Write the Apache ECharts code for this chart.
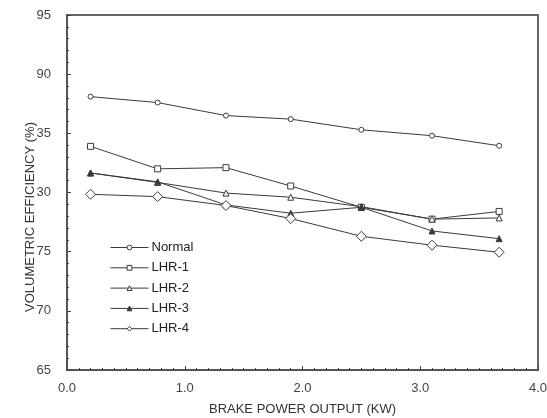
<!DOCTYPE html>
<html><head><meta charset="utf-8">
<script src="https://cdn.jsdelivr.net/npm/echarts@6/dist/echarts.min.js"></script>
<style>html,body{margin:0;padding:0;background:#fff}#c{width:547px;height:418px}</style>
</head><body><div id="c"></div>
<script>
var power = [0.2, 0.77, 1.35, 1.9, 2.5, 3.1, 3.67];
var normal = [88.1, 87.6, 86.5, 86.2, 85.3, 84.8, 83.95];
var lhr1 = [83.9, 82.0, 82.1, 80.55, 78.75, 77.75, 78.4];
var lhr2 = [81.65, 80.85, 79.95, 79.6, 78.8, 77.75, 77.85];
var lhr3 = [81.65, 80.9, 78.95, 78.25, 78.75, 76.75, 76.1];
var lhr4 = [79.85, 79.65, 78.9, 77.8, 76.3, 75.55, 74.95];
var yTickLabels = {95: '95', 90: '90', 85: '35', 80: '30', 75: '75', 70: '70', 65: '65'};
var xTitle = 'BRAKE POWER OUTPUT (KW)';
var yTitle = 'VOLUMETRIC EFFICIENCY (%)';

function pairs(ys) { return ys.map(function (v, i) { return [power[i], v]; }); }
var F = 'Liberation Sans, Arial, sans-serif';
var LC = '#3a3a3a';
function ser(name, ys, symbol, size, fill) {
  return {
    name: name, type: 'line', data: pairs(ys), symbol: symbol, symbolSize: size,
    lineStyle: {color: LC, width: 1}, itemStyle: {color: fill, borderColor: LC, borderWidth: 1},
    emphasis: {disabled: true}, animation: false
  };
}
var chart = echarts.init(document.getElementById('c'));
chart.setOption({
  animation: false,
  grid: {left: 67, top: 15, right: 9, bottom: 48, outerBoundsMode: 'none', containLabel: false,
    show: true, borderColor: '#666', borderWidth: 2, backgroundColor: 'transparent'},
  xAxis: {
    type: 'value', min: 0, max: 4, interval: 1,
    name: xTitle, nameLocation: 'middle', nameGap: 33,
    nameTextStyle: {fontFamily: F, fontSize: 13, color: '#333'},
    axisLine: {lineStyle: {color: '#555', width: 2}},
    axisTick: {inside: true, length: 4, lineStyle: {color: '#444'}},
    minorTick: {show: true, splitNumber: 10, length: 2, lineStyle: {color: '#444'}},
    splitLine: {show: false},
    axisLabel: {fontFamily: F, fontSize: 13, color: '#444', margin: 12, formatter: function (v) { return v.toFixed(1); }}
  },
  yAxis: {
    type: 'value', min: 65, max: 95, interval: 5,
    axisLine: {show: true, lineStyle: {color: '#555', width: 2}},
    axisTick: {show: true, inside: true, length: 4, lineStyle: {color: '#444'}},
    minorTick: {show: true, splitNumber: 5, length: 2, lineStyle: {color: '#444'}},
    splitLine: {show: false},
    axisLabel: {fontFamily: F, fontSize: 13, color: '#444', margin: 16, formatter: function (v) { return yTickLabels[v] || String(v); }}
  },
  legend: {
    orient: 'vertical', left: 110, top: 241, padding: 0, itemWidth: 38, itemHeight: 6, itemGap: 7.3,
    textStyle: {fontFamily: F, fontSize: 13, color: '#222', padding: [0, 0, 0, -2]},
    lineStyle: {width: 1}, itemStyle: {borderWidth: 1},
    inactiveColor: '#999', selectedMode: false,
    data: ['Normal', 'LHR-1', 'LHR-2', 'LHR-3', 'LHR-4']
  },
  graphic: [{
    type: 'text', x: 30, y: 217, rotation: Math.PI / 2,
    style: {text: yTitle, fontFamily: F, fontSize: 13, fill: '#333', align: 'center', verticalAlign: 'middle'}
  }],
  series: [
    ser('Normal', normal, 'circle', 5, '#fff'),
    ser('LHR-1', lhr1, 'rect', 6, '#fff'),
    ser('LHR-2', lhr2, 'triangle', 6, '#fff'),
    ser('LHR-3', lhr3, 'triangle', 6, LC),
    ser('LHR-4', lhr4, 'diamond', 10, '#fff')
  ]
});
</script></body></html>
